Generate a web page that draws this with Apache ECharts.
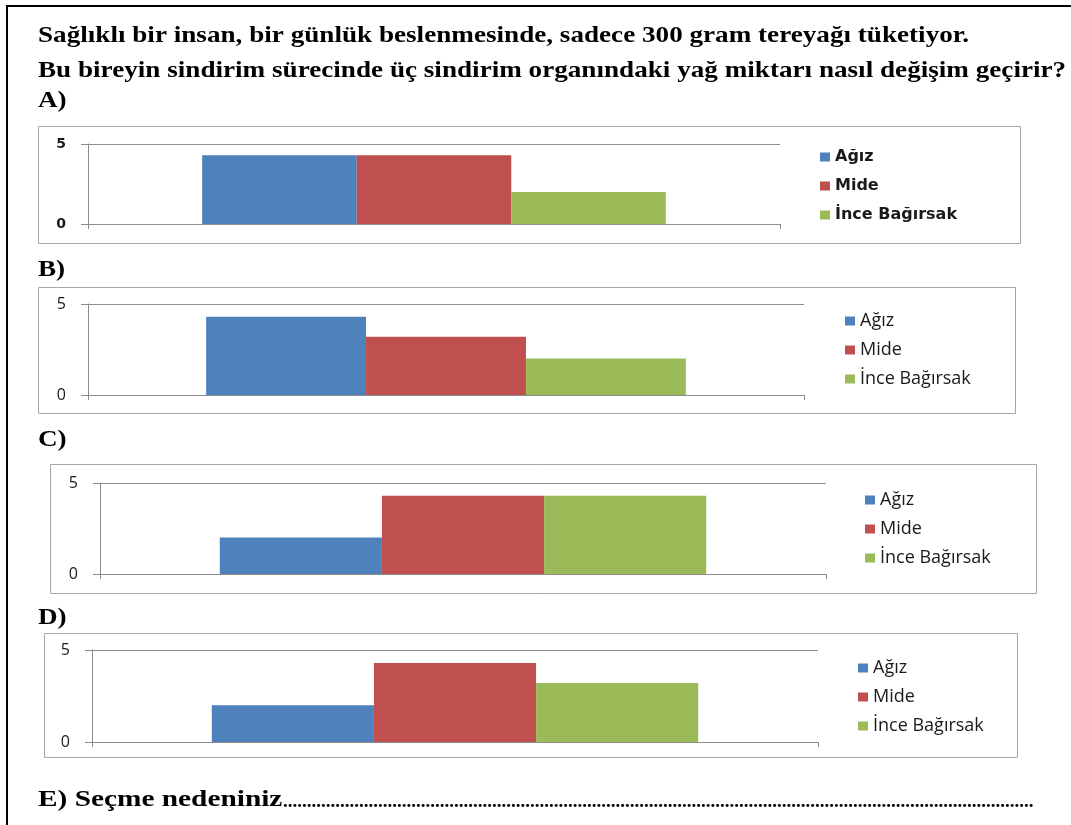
<!DOCTYPE html>
<html>
<head>
<meta charset="utf-8">
<script src="https://cdn.jsdelivr.net/npm/echarts@6/dist/echarts.min.js"></script>
<style>
  html, body { margin: 0; padding: 0; background: #ffffff; }
  #page { width: 1071px; height: 825px; }
</style>
</head>
<body>
<div id="page"></div>
<script>
// Organs shown in every chart (legend order = bar order)
const organs = ['Ağız', 'Mide', 'İnce Bağırsak'];
const organColors = ['#4f81bd', '#c0504d', '#9bbb59'];

// Fat amount per organ, one array per answer option
const valuesA = [4.3, 4.3, 2.0];
const valuesB = [4.3, 3.2, 2.0];
const valuesC = [2.0, 4.3, 4.3];
const valuesD = [2.0, 4.3, 3.2];

// Value axis bounds / tick labels
const yMin = 0;
const yMax = 5;
const yStep = 5;

// Question text
const questionLines = [
  'Sağlıklı bir insan, bir günlük beslenmesinde, sadece 300 gram tereyağı tüketiyor.',
  'Bu bireyin sindirim sürecinde üç sindirim organındaki yağ miktarı nasıl değişim geçirir?'
];
const optionLabels = ['A)', 'B)', 'C)', 'D)'];
const reasonLabel = 'E) Seçme nedeniniz';
const reasonDots = '.'.repeat(158);

// Layout of the four option panels (pixels)
const panels = [
  { values: valuesA, label: [38, 101], box: [38, 126, 982, 117], grid: [88, 144, 692, 80],
    legend: [820, 148], font: '"DejaVu Sans", sans-serif', fontSize: 16, weight: 'bold', tickSize: 14 },
  { values: valuesB, label: [38, 270], box: [38, 287, 977, 126], grid: [88, 304, 716, 91],
    legend: [845, 312], font: '"Open Sans", sans-serif', fontSize: 18, weight: 'normal', tickSize: 16 },
  { values: valuesC, label: [38, 440], box: [50, 464, 986, 129], grid: [100, 483, 726, 91],
    legend: [865, 491], font: '"Open Sans", sans-serif', fontSize: 18, weight: 'normal', tickSize: 16 },
  { values: valuesD, label: [38, 618], box: [44, 633, 973, 124], grid: [92, 650, 726, 92],
    legend: [858, 659], font: '"Open Sans", sans-serif', fontSize: 18, weight: 'normal', tickSize: 16 }
];

const axisGray = '#8c8c8c';
const serif = '"Liberation Serif", "DejaVu Serif", serif';
const textSize = 23;
const textStretch = 1.18;

const grids = [], xAxes = [], yAxes = [], series = [], legends = [], graphics = [];

function serifText(text, x, cy, sx, size) {
  return {
    type: 'text', x: x, y: cy, scaleX: sx, silent: true,
    style: { text: text, fontFamily: serif, fontSize: size || textSize, fontWeight: 'bold', fill: '#000',
             verticalAlign: 'middle', align: 'left' }
  };
}

panels.forEach((p, i) => {
  grids.push({ left: p.grid[0], top: p.grid[1], width: p.grid[2], height: p.grid[3] });
  xAxes.push({
    type: 'category', gridIndex: i, data: [''],
    axisLine: { lineStyle: { color: axisGray, width: 1 } },
    axisTick: { show: true, length: 5, lineStyle: { color: axisGray } },
    axisLabel: { show: false }
  });
  yAxes.push({
    type: 'value', gridIndex: i, min: yMin, max: yMax, interval: yStep,
    axisLine: { show: true, lineStyle: { color: axisGray, width: 1 } },
    axisTick: { show: true, length: 7, lineStyle: { color: axisGray } },
    splitLine: { show: true, lineStyle: { color: axisGray, width: 1 } },
    axisLabel: { margin: 22, color: '#1a1a1a', fontFamily: p.font, fontSize: p.tickSize, fontWeight: p.weight }
  });
  organs.forEach((name, k) => {
    series.push({
      type: 'bar', name: name, xAxisIndex: i, yAxisIndex: i,
      data: [p.values[k]],
      barGap: '0%', barCategoryGap: '33%',
      itemStyle: { color: organColors[k] },
      emphasis: { disabled: true },
      animation: false
    });
  });
  legends.push({
    data: organs, orient: 'vertical', left: p.legend[0], top: p.legend[1], padding: 0,
    icon: 'rect', itemWidth: 10, itemHeight: 9, itemGap: 11,
    selectedMode: false,
    textStyle: { color: '#1a1a1a', fontFamily: p.font, fontSize: p.fontSize, fontWeight: p.weight, lineHeight: 18 }
  });
  // chart frame
  graphics.push({
    type: 'rect', z: 0, silent: true,
    shape: { x: p.box[0] + 0.5, y: p.box[1] + 0.5, width: p.box[2], height: p.box[3] },
    style: { fill: 'none', stroke: '#a6a6a6', lineWidth: 1 }
  });
  // option letter
  graphics.push(serifText(optionLabels[i], p.label[0], p.label[1], textStretch));
});

// question lines
graphics.push(serifText(questionLines[0], 38, 36, textStretch));
graphics.push(serifText(questionLines[1], 38, 71, textStretch));
// reason line with dotted answer space
graphics.push(serifText(reasonLabel, 38, 800, 1.275));
graphics.push(serifText(reasonDots, 283, 802, 1, 19));
// page border (top and left edges)
graphics.push({
  type: 'polyline', silent: true,
  shape: { points: [[7, 825], [7, 6], [1071, 6]] },
  style: { stroke: '#000', lineWidth: 2, fill: 'none' }
});

const chart = echarts.init(document.getElementById('page'), null, { renderer: 'canvas' });
chart.setOption({
  backgroundColor: '#ffffff',
  animation: false,
  grid: grids,
  xAxis: xAxes,
  yAxis: yAxes,
  legend: legends,
  series: series,
  graphic: graphics
});
</script>
</body>
</html>
